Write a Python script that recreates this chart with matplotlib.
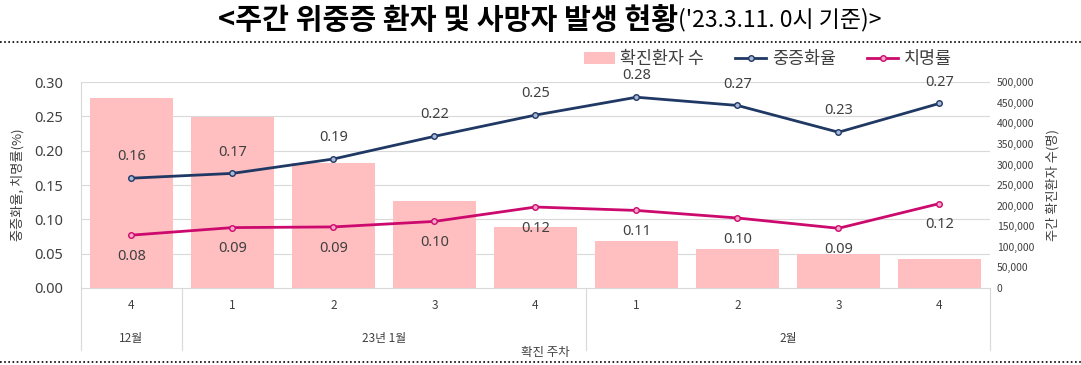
import matplotlib
matplotlib.use("Agg")
import matplotlib.pyplot as plt
from matplotlib.ticker import FuncFormatter, MultipleLocator
import matplotlib.transforms as mtransforms
from matplotlib.lines import Line2D
from matplotlib.patches import Patch

plt.rcParams['font.family'] = ['Noto Sans CJK KR', 'DejaVu Sans']

weeks = ['4', '1', '2', '3', '4', '1', '2', '3', '4']
months = ['12월', '23년 1월', '2월']
month_spans = [(0, 0), (1, 4), (5, 8)]
cases = [461000, 415000, 303000, 211000, 148000, 114000, 95000, 83000, 70000]
severity = [0.160, 0.167, 0.188, 0.221, 0.252, 0.278, 0.266, 0.227, 0.269]
fatality = [0.077, 0.088, 0.089, 0.097, 0.118, 0.113, 0.102, 0.087, 0.123]
severity_labels = ['0.16', '0.17', '0.19', '0.22', '0.25', '0.28', '0.27', '0.23', '0.27']
fatality_labels = ['0.08', '0.09', '0.09', '0.10', '0.12', '0.11', '0.10', '0.09', '0.12']

bar_color = '#FFBFC0'
sev_color = '#203864'
fat_color = '#CC0A6E'
grid_color = '#D9D9D9'

fig = plt.figure(figsize=(10.81, 3.65), dpi=100)
ax = fig.add_axes([0.0749, 0.211, 0.8409, 0.564])
ax2 = ax.twinx()
ax.set_zorder(ax2.get_zorder() + 1)
ax.patch.set_visible(False)

x = list(range(len(weeks)))
ax2.bar(x, cases, width=0.83, color=bar_color, zorder=2)
ax2.set_ylim(0, 500000)
ax2.yaxis.set_major_locator(MultipleLocator(50000))
ax2.yaxis.set_major_formatter(FuncFormatter(lambda v, p: f'{int(v):,}'))
ax2.tick_params(axis='y', length=0, labelsize=7.5, colors='#404040', pad=5)

ax.plot(x, severity, color=sev_color, lw=2, marker='o', ms=4,
        mfc='#A9B8D9', mec=sev_color, mew=1, zorder=5)
ax.plot(x, fatality, color=fat_color, lw=2, marker='o', ms=4,
        mfc='#F3A6C8', mec=fat_color, mew=1, zorder=5)
for i in x:
    ax.annotate(severity_labels[i], (i, severity[i]), xytext=(0, 10),
                textcoords='offset points', ha='center', va='bottom',
                fontsize=10.5, color='#404040', family=['Noto Sans', 'DejaVu Sans'])
    ax.annotate(fatality_labels[i], (i, fatality[i]), xytext=(0, -10),
                textcoords='offset points', ha='center', va='top',
                fontsize=10.5, color='#404040', family=['Noto Sans', 'DejaVu Sans'])

ax.set_xlim(-0.5, len(weeks) - 0.5)
ax.set_ylim(0, 0.30)
ax.yaxis.set_major_locator(MultipleLocator(0.05))
ax.yaxis.set_major_formatter(FuncFormatter(lambda v, p: f'{v:.2f}'))
ax.tick_params(axis='y', length=0, labelsize=10.5, colors='#404040', pad=13)
for t in ax.get_yticklabels():
    t.set_family(['Noto Sans', 'DejaVu Sans'])
ax.set_xticks([])
for v in [0.05, 0.10, 0.15, 0.20, 0.25, 0.30]:
    ax2.axhline(v / 0.30 * 500000, color=grid_color, lw=0.8, zorder=1)
for s in ['top', 'right', 'bottom']:
    ax.spines[s].set_visible(False)
    ax2.spines[s].set_visible(False)
ax.spines['left'].set_color(grid_color)
ax2.spines['left'].set_visible(False)
ax2.spines['right'].set_visible(False)

# category axis
trans = mtransforms.blended_transform_factory(ax.transData, ax.transAxes)
ax.plot([-0.5, len(weeks) - 0.5], [0, 0], transform=trans, color=grid_color, lw=0.8, clip_on=False)
for i, w in enumerate(weeks):
    ax.text(i, -0.087, w, transform=trans, ha='center', va='center', fontsize=8.5, color='#404040')
for (a, b), m in zip(month_spans, months):
    ax.text((a + b) / 2, -0.243, m, transform=trans, ha='center', va='center', fontsize=8.5, color='#404040')
for xs in [-0.5, 0.5, 4.5, 8.5]:
    ax.plot([xs, xs], [0, -0.30], transform=trans, color=grid_color, lw=0.8, clip_on=False)
ax.text(4.1, -0.315, '확진 주차', transform=trans, ha='center', va='center', fontsize=9, color='#404040')

ax.set_ylabel('중증화율, 치명률(%)', fontsize=9.5, color='#404040', labelpad=7)
ax2.set_ylabel('주간 확진환자 수(명)', fontsize=9.5, color='#404040', rotation=90, labelpad=8)

# legend
handles = [Patch(facecolor=bar_color, edgecolor='none'),
           Line2D([], [], color=sev_color, lw=2, marker='o', ms=4, mfc='#A9B8D9', mec=sev_color),
           Line2D([], [], color=fat_color, lw=2, marker='o', ms=4, mfc='#F3A6C8', mec=fat_color)]
fig.legend(handles, ['확진환자 수', '중증화율', '치명률'], loc='center',
           bbox_to_anchor=(0.71, 0.838), ncol=3, frameon=False, fontsize=12.5,
           handlelength=1.8, columnspacing=1.8, handletextpad=0.3,
           labelcolor='#404040')

# title
fig.text(0.627, 0.945, '<주간 위중증 환자 및 사망자 발생 현황', ha='right', va='center',
         fontsize=21, fontweight='bold', color='black')
fig.text(0.627, 0.945, "('23.3.11. 0시 기준)>", ha='left', va='center',
         fontsize=16.5, color='black')

for yy in [0.885, 0.008]:
    fig.add_artist(Line2D([0.0, 1.0], [yy, yy], transform=fig.transFigure,
                          color='black', lw=1.2, linestyle=(0, (1, 1.5))))

fig.savefig('out.png', dpi=100)
